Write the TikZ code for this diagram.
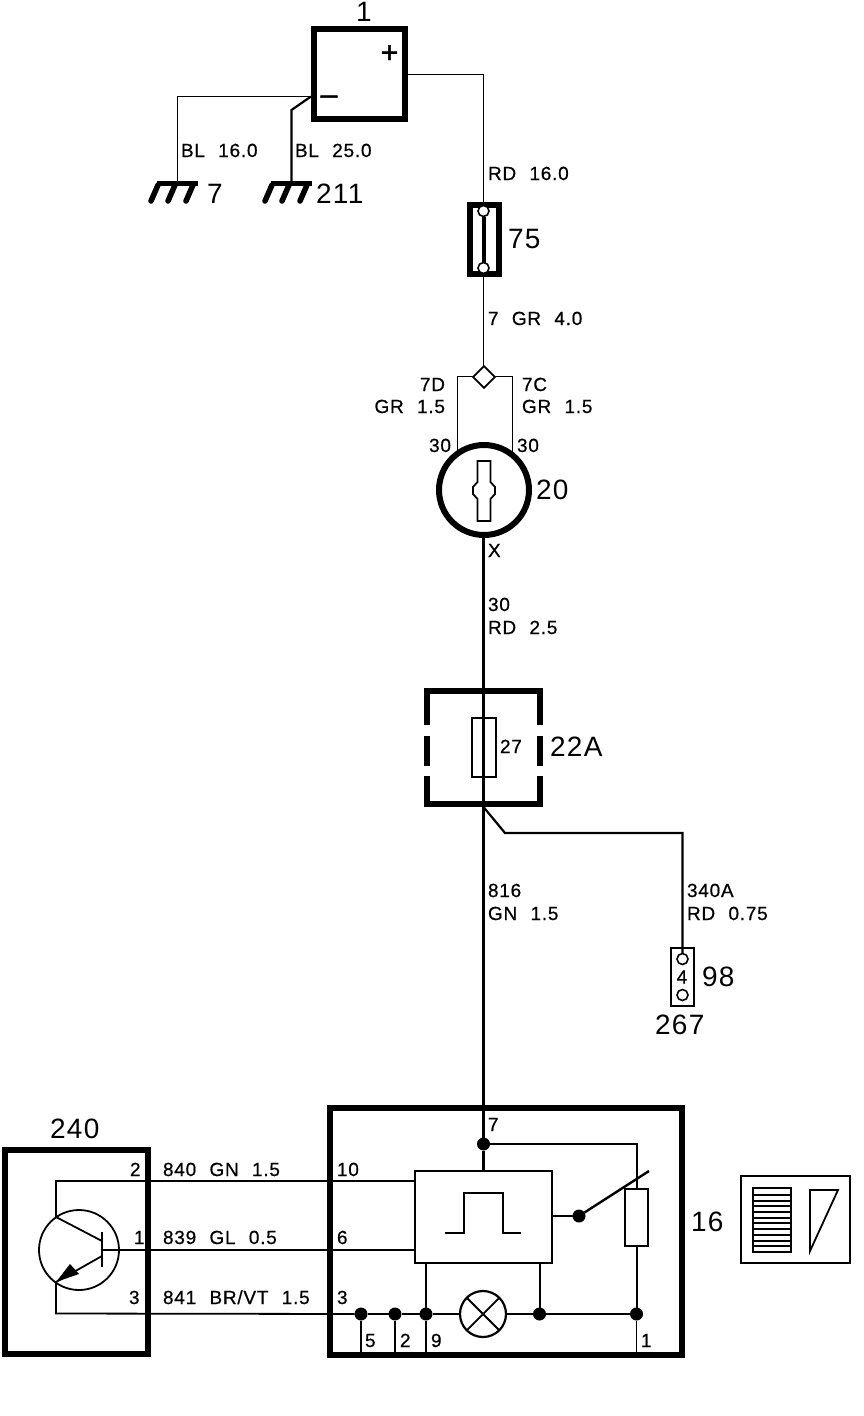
\documentclass[tikz,border=0pt]{standalone}
\usepackage{fontspec}
\usetikzlibrary{calc}
\newfontfamily\lab[WordSpace=2.2,LetterSpace=4,FakeBold=0.6]{Liberation Sans}
\newfontfamily\labbig[LetterSpace=5]{Liberation Sans}
\newfontfamily\labsign[FakeBold=1.5]{Liberation Sans}
\tikzset{
  x=1pt,y=-1pt,
  wire/.style={draw=black,line width=1.7pt,line join=miter},
  heavywire/.style={draw=black,line width=3.2pt},
  heavybox/.style={draw=black,line width=6pt,fill=none,rectangle,inner sep=0pt,outer sep=0pt},
  thinbox/.style={draw=black,line width=1.8pt,rectangle,inner sep=0pt,outer sep=0pt},
  midbox/.style={draw=black,line width=2.4pt,rectangle,inner sep=0pt,outer sep=0pt},
  small/.style={anchor=base west,inner sep=0pt,outer sep=0pt,font=\lab\fontsize{19}{19}\selectfont},
  big/.style={anchor=base west,inner sep=0pt,outer sep=0pt,font=\labbig\fontsize{28}{28}\selectfont},
  sign/.style={anchor=center,inner sep=0pt,font=\labsign\fontsize{30}{30}\selectfont},
  jdot/.style={circle,fill=black,draw=none,minimum size=13pt,inner sep=0pt,outer sep=0pt},
  ring/.style={circle,draw=black,fill=white,line width=1.6pt,minimum size=11pt,inner sep=0pt,outer sep=0pt},
  gndleg/.style={draw=black,line width=5.5pt,line cap=round},
  gndbar/.style={draw=black,line width=5pt},
}
\begin{document}
\begin{tikzpicture}
\useasboundingbox (0,0) rectangle (864,1416);
\fill[white] (0,0) rectangle (864,1416);

% --- battery
\node[heavybox,minimum width=91pt,minimum height=90pt] (bat) at (359.5,74) {};
\coordinate (batminus) at (311,96.5);
\coordinate (gndA) at (177.5,182);
\coordinate (gndB) at (291.5,182);
\coordinate (bendB) at (291.5,110);
\coordinate (fusein) at (483.5,74.5);
\node[big,anchor=base] (batlabel) at (364,21) {1};
\node[sign] (plus) at (389.5,54) {+};
\node[sign] (minus) at (329,100) {–};
\draw[wire] (batminus) -| (gndA);
\draw[wire,line width=2.2pt] (batminus) -- (bendB) -- (gndB);
% --- grounds
\foreach \g/\o in {A/0,B/114}{
  \draw[gndbar] ($(157,183)+(\o,0)$) -- ($(198,183)+(\o,0)$);
  \draw[gndleg] ($(158,185)+(\o,0)$) -- ($(151,201)+(\o,0)$);
  \draw[gndleg] ($(175,185)+(\o,0)$) -- ($(168,201)+(\o,0)$);
  \draw[gndleg] ($(193,185)+(\o,0)$) -- ($(186,201)+(\o,0)$);
}
\node[small] (lblA) at (181,157) {BL 16.0};
\node[small] (lblB) at (295,157) {BL 25.0};
\node[big] (g7) at (207,203) {7};
\node[big] (g211) at (316,203) {211};

% --- fuse 75
\node[heavybox,minimum width=29pt,minimum height=69pt] (fuse) at (484.5,239.5) {};
\draw[wire] (bat.east |- fusein) -- (fusein) -- (fuse.north -| fusein);
\node[ring] (ft) at (483.5,211) {};
\node[ring] (fb) at (483.5,268) {};
\draw[draw=black,line width=4pt] (ft) -- (fb);
\node[small] (lblRD) at (488,180) {RD 16.0};
\node[big] (l75) at (508,248) {75};

% --- splice diamond
\node[draw=black,fill=white,line width=1.8pt,minimum size=15.5pt,inner sep=0pt,outer sep=0pt,rotate=45] (splice) at (484,377) {};
\draw[wire] (fuse.south -| fusein) -- (splice.north east -| fusein);
\node[small] (l7gr) at (488,325) {7 GR 4.0};
\node[small,anchor=base east] (l7d) at (445,391) {7D};
\node[small,anchor=base east] (l7dg) at (445,413) {GR 1.5};
\node[small] (l7c) at (522,391) {7C};
\node[small] (l7cg) at (522,413) {GR 1.5};

% --- ignition switch 20
\coordinate (swl) at (457.5,452);
\coordinate (swr) at (512.5,452);
\draw[wire] (473,376.5) -| (swl);
\draw[wire] (495,376.5) -| (swr);
\node[circle,draw=black,fill=white,line width=6pt,minimum size=90pt,inner sep=0pt,outer sep=0pt] (sw) at (484,490) {};
\draw[draw=black,line width=1.8pt,fill=white] (477.5,461) -- (490.5,461) -- (490.5,482) -- (495,487) -- (495,494) -- (490.5,499) -- (490.5,521) -- (477.5,521) -- (477.5,499) -- (473,494) -- (473,487) -- (477.5,482) -- cycle;
\node[small,anchor=base east] (l30a) at (451,452) {30};
\node[small] (l30b) at (517,452) {30};
\node[big] (l20) at (536,499) {20};
\node[small] (lX) at (488,557) {X};
\node[small] (l30c) at (488,611) {30};
\node[small] (l30d) at (488,634) {RD 2.5};

% --- fuse box 22A
\node[heavybox,minimum width=113pt,minimum height=113pt] (fb22) at (483.5,747.5) {};
\fill[white] (420,725) rectangle (431,736);
\fill[white] (420,766) rectangle (431,776);
\fill[white] (536,725) rectangle (547,736);
\fill[white] (536,766) rectangle (547,776);
\node[thinbox,minimum width=24pt,minimum height=59pt] (f27) at (484,747.5) {};
\node[small] (l27) at (500,753) {27};
\node[big] (l22) at (550,756) {22A};

% --- module 16
\node[heavybox,minimum width=352pt,minimum height=247pt] (mod) at (506,1231.5) {};
\coordinate (seven) at (483.5,1144);
\draw[heavywire] (sw.south -| seven) -- (mod.north -| seven);
\draw[wire,line width=2.2pt] (mod.north -| seven) -- (seven);
\coordinate (split) at (483.5,807);
\coordinate (branchA) at (505,833);
\coordinate (branchB) at (682.5,833);
\node[small] (l816) at (488,897) {816};
\node[small] (l816g) at (488,920) {GN 1.5};
\node[small] (l340) at (687,897) {340A};
\node[small] (l340r) at (687,920) {RD 0.75};

% --- connector 267
\node[midbox,minimum width=23pt,minimum height=58pt] (conn) at (682.5,977) {};
\draw[wire,line width=2.2pt] (split) -- (branchA) -- (branchB) -- (branchB |- conn.north) -- (682.5,954);
\node[ring] (c1) at (682.5,959) {};
\node[ring] (c2) at (682.5,995) {};
\node[small,anchor=base] (c4) at (682,983.5) {4};
\node[big] (l98) at (702,986) {98};
\node[big] (l267) at (655,1034) {267};

% --- timer block
\node[midbox,minimum width=137pt,minimum height=92pt] (timer) at (483.5,1217) {};
\node[jdot] (j7) at (seven) {};
\draw[wire,line width=2.2pt] (j7) -- (timer.north -| j7);
\draw[draw=black,line width=2.8pt] (445,1233) -- (464,1233) -- (464,1193) -- (503,1193) -- (503,1233) -- (521,1233);
\node[thinbox,line width=2.2pt,minimum width=23pt,minimum height=57pt] (res) at (636.5,1217.5) {};
\draw[wire,line width=2pt] (j7) -| (res.north);
\node[jdot] (jsw) at (579,1216) {};
\coordinate (swtip) at (649,1171);
\draw[wire] (timer.east |- jsw) -- (jsw);
\draw[draw=black,line width=2.4pt] (jsw) -- (swtip);
% bus
\node[circle,draw=black,line width=2.2pt,minimum size=46pt,inner sep=0pt,outer sep=0pt] (lamp) at (483,1314) {};
\draw[draw=black,line width=1.8pt] (lamp.north west) -- (lamp.south east) (lamp.north east) -- (lamp.south west);
\node[jdot] (b5) at (361,1314) {};
\node[jdot] (b2) at (395,1314) {};
\node[jdot] (b9) at (426,1314) {};
\node[jdot] (bt) at (539.5,1314) {};
\node[jdot] (b1) at (636.5,1314) {};
\draw[wire,line width=2pt] (b5) -- (b2) -- (b9) -- (lamp);
\draw[wire,line width=2pt] (lamp) -- (bt) -- (b1);
\draw[wire,line width=2pt] (b9) -- (timer.south -| b9);
\draw[wire,line width=2pt] (bt) -- (timer.south -| bt);
\draw[wire,line width=2pt] (res.south) -- (b1);
\draw[wire] (b5) -- (mod.south -| b5);
\draw[wire] (b2) -- (mod.south -| b2);
\draw[wire] (b9) -- (mod.south -| b9);
\draw[wire] (b1) -- (mod.south -| b1);
\node[small] (m7) at (488,1131) {7};
\node[small] (m10) at (337,1176) {10};
\node[small] (m6) at (337,1244) {6};
\node[small] (m3) at (337,1304) {3};
\node[small] (m5) at (365,1347) {5};
\node[small] (m2) at (400,1347) {2};
\node[small] (m9) at (431,1347) {9};
\node[small] (m1) at (641,1347) {1};
\node[big] (l16) at (691,1231) {16};

% --- sensor 240
\node[heavybox,minimum width=143pt,minimum height=204pt] (sens) at (76.5,1252) {};
\node[big] (l240) at (50,1138) {240};
\node[circle,draw=black,line width=1.8pt,minimum size=80pt,inner sep=0pt,outer sep=0pt] (tr) at (79,1250) {};
\coordinate (base) at (102,1250);
\coordinate (colpt) at (56,1217);
\coordinate (emipt) at (56,1282);
\coordinate (colw) at (56,1181);
\coordinate (emiw) at (56,1313.5);
\draw[draw=black,line width=2pt] (102,1232) -- (102,1267);
\draw[wire,line width=1.8pt] (colpt) -- (102,1241);
\draw[wire,line width=1.8pt] (102,1256) -- (emipt);
\fill[black] (emipt) -- (70,1264) -- (79,1274) -- cycle;
\draw[wire,line width=1.8pt] (colpt) -- (colw) -- (colw -| timer.west);
\draw[wire,line width=1.8pt] (emipt) -- (emiw) -- (b5);
\draw[wire,line width=1.8pt] (base) -- (base -| timer.west);
\node[small] (s2) at (130,1176) {2};
\node[small] (s1) at (134,1244) {1};
\node[small] (s3) at (129,1304) {3};
\node[small] (w1) at (163,1176) {840 GN 1.5};
\node[small] (w2) at (163,1244) {839 GL 0.5};
\node[small] (w3) at (163,1304) {841 BR/VT 1.5};

% --- legend box
\node[thinbox,minimum width=109pt,minimum height=87pt] (leg) at (795.5,1219.5) {};
\node[thinbox,minimum width=38pt,minimum height=64pt] (stripes) at (772,1220) {};
\foreach \yy in {1195,1201,1206,1212,1218,1223,1229,1235,1241,1246}{
  \draw[draw=black,line width=1.3pt] (753,\yy) -- (791,\yy);
}
\coordinate (ta) at (810,1190);
\coordinate (tb) at (838,1190);
\coordinate (tc) at (810,1251);
\draw[draw=black,line width=1.8pt] (ta) -- (tb) -- (tc) -- cycle;
\end{tikzpicture}
\end{document}
